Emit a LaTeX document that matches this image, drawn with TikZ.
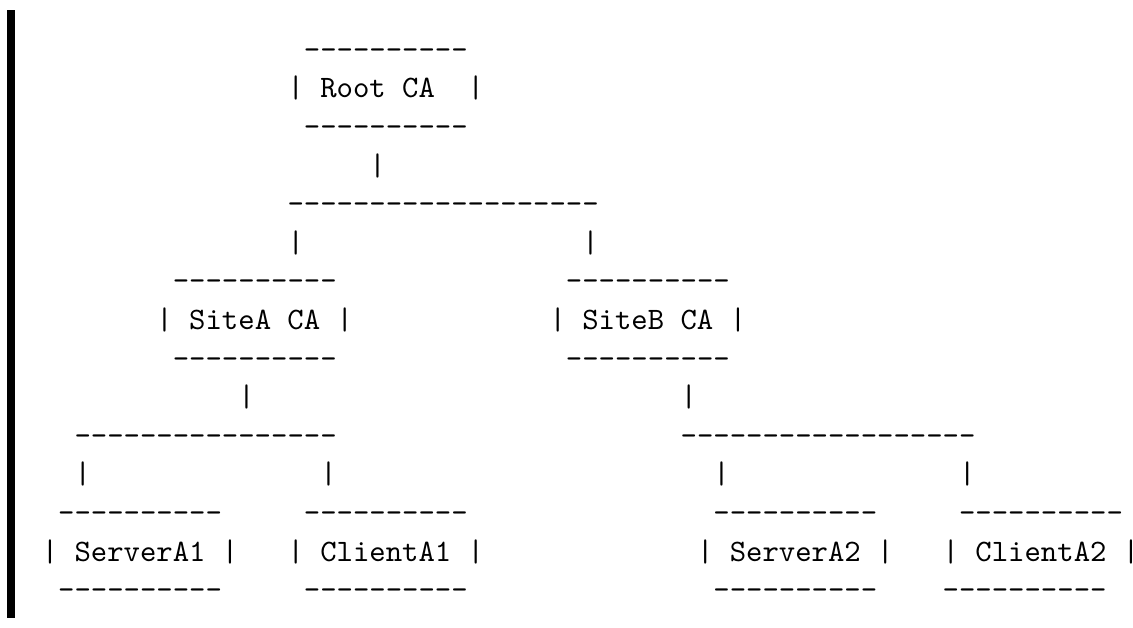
\documentclass[tikz,border=0pt]{standalone}
\usepackage{graphicx}

% Typewriter text in its 10pt design, enlarged so that one character cell is 16.38pt wide
\newcommand\asc[1]{\scalebox{3.12}{\fontsize{10pt}{12pt}\selectfont\ttfamily #1}}

% a run of hyphens, kept apart so no ligature joins them
\newcommand\dashrun[1]{\asc{\foreach\i in {1,...,#1}{-\kern0pt}}}

\tikzset{
  cell/.style={inner sep=0pt, outer sep=0pt, anchor=base west},
}

\begin{document}
\begin{tikzpicture}[x=16.38pt, y=-38.6pt]
  \useasboundingbox (-41.81pt,59.4pt) rectangle (1091.19pt,-568.6pt);

  % quote bar on the left
  \fill[black] (-34.8pt,49.4pt) rectangle (-26.8pt,-558.6pt);

  % Root CA
  \node[cell] (rootTop) at (16,0) {\dashrun{10}};
  \node[cell] (rootL)   at (15,1) {\asc{|}};
  \node[cell] (root)    at (17,1) {\asc{Root CA}};
  \node[cell] (rootR)   at (26,1) {\asc{|}};
  \node[cell] (rootBot) at (16,2) {\dashrun{10}};
  \node[cell] (rootStem) at (20,3) {\asc{|}};
  \node[cell] (rootBus) at (15,4) {\dashrun{19}};
  \node[cell] (dropA)   at (15,5) {\asc{|}};
  \node[cell] (dropB)   at (33,5) {\asc{|}};

  % SiteA CA
  \node[cell] (siteATop) at (8,6) {\dashrun{10}};
  \node[cell] (siteAL)   at (7,7) {\asc{|}};
  \node[cell] (siteA)    at (9,7) {\asc{SiteA CA}};
  \node[cell] (siteAR)   at (18,7) {\asc{|}};
  \node[cell] (siteABot) at (8,8) {\dashrun{10}};
  \node[cell] (siteAStem) at (12,9) {\asc{|}};
  \node[cell] (siteABus) at (2,10) {\dashrun{16}};
  \node[cell] (dropSA1)  at (2,11) {\asc{|}};
  \node[cell] (dropCA1)  at (17,11) {\asc{|}};

  % SiteB CA
  \node[cell] (siteBTop) at (32,6) {\dashrun{10}};
  \node[cell] (siteBL)   at (31,7) {\asc{|}};
  \node[cell] (siteB)    at (33,7) {\asc{SiteB CA}};
  \node[cell] (siteBR)   at (42,7) {\asc{|}};
  \node[cell] (siteBBot) at (32,8) {\dashrun{10}};
  \node[cell] (siteBStem) at (39,9) {\asc{|}};
  \node[cell] (siteBBus) at (39,10) {\dashrun{18}};
  \node[cell] (dropSA2)  at (41,11) {\asc{|}};
  \node[cell] (dropCA2)  at (56,11) {\asc{|}};

  % ServerA1
  \node[cell] (sa1Top) at (1,12) {\dashrun{10}};
  \node[cell] (sa1L)   at (0,13) {\asc{|}};
  \node[cell] (sa1)    at (2,13) {\asc{ServerA1}};
  \node[cell] (sa1R)   at (11,13) {\asc{|}};
  \node[cell] (sa1Bot) at (1,14) {\dashrun{10}};

  % ClientA1
  \node[cell] (ca1Top) at (16,12) {\dashrun{10}};
  \node[cell] (ca1L)   at (15,13) {\asc{|}};
  \node[cell] (ca1)    at (17,13) {\asc{ClientA1}};
  \node[cell] (ca1R)   at (26,13) {\asc{|}};
  \node[cell] (ca1Bot) at (16,14) {\dashrun{10}};

  % ServerA2
  \node[cell] (sa2Top) at (41,12) {\dashrun{10}};
  \node[cell] (sa2L)   at (40,13) {\asc{|}};
  \node[cell] (sa2)    at (42,13) {\asc{ServerA2}};
  \node[cell] (sa2R)   at (51,13) {\asc{|}};
  \node[cell] (sa2Bot) at (41,14) {\dashrun{10}};

  % ClientA2
  \node[cell] (ca2Top) at (56,12) {\dashrun{10}};
  \node[cell] (ca2L)   at (55,13) {\asc{|}};
  \node[cell] (ca2)    at (57,13) {\asc{ClientA2}};
  \node[cell] (ca2R)   at (66,13) {\asc{|}};
  \node[cell] (ca2Bot) at (55,14) {\dashrun{10}};
\end{tikzpicture}
\end{document}
